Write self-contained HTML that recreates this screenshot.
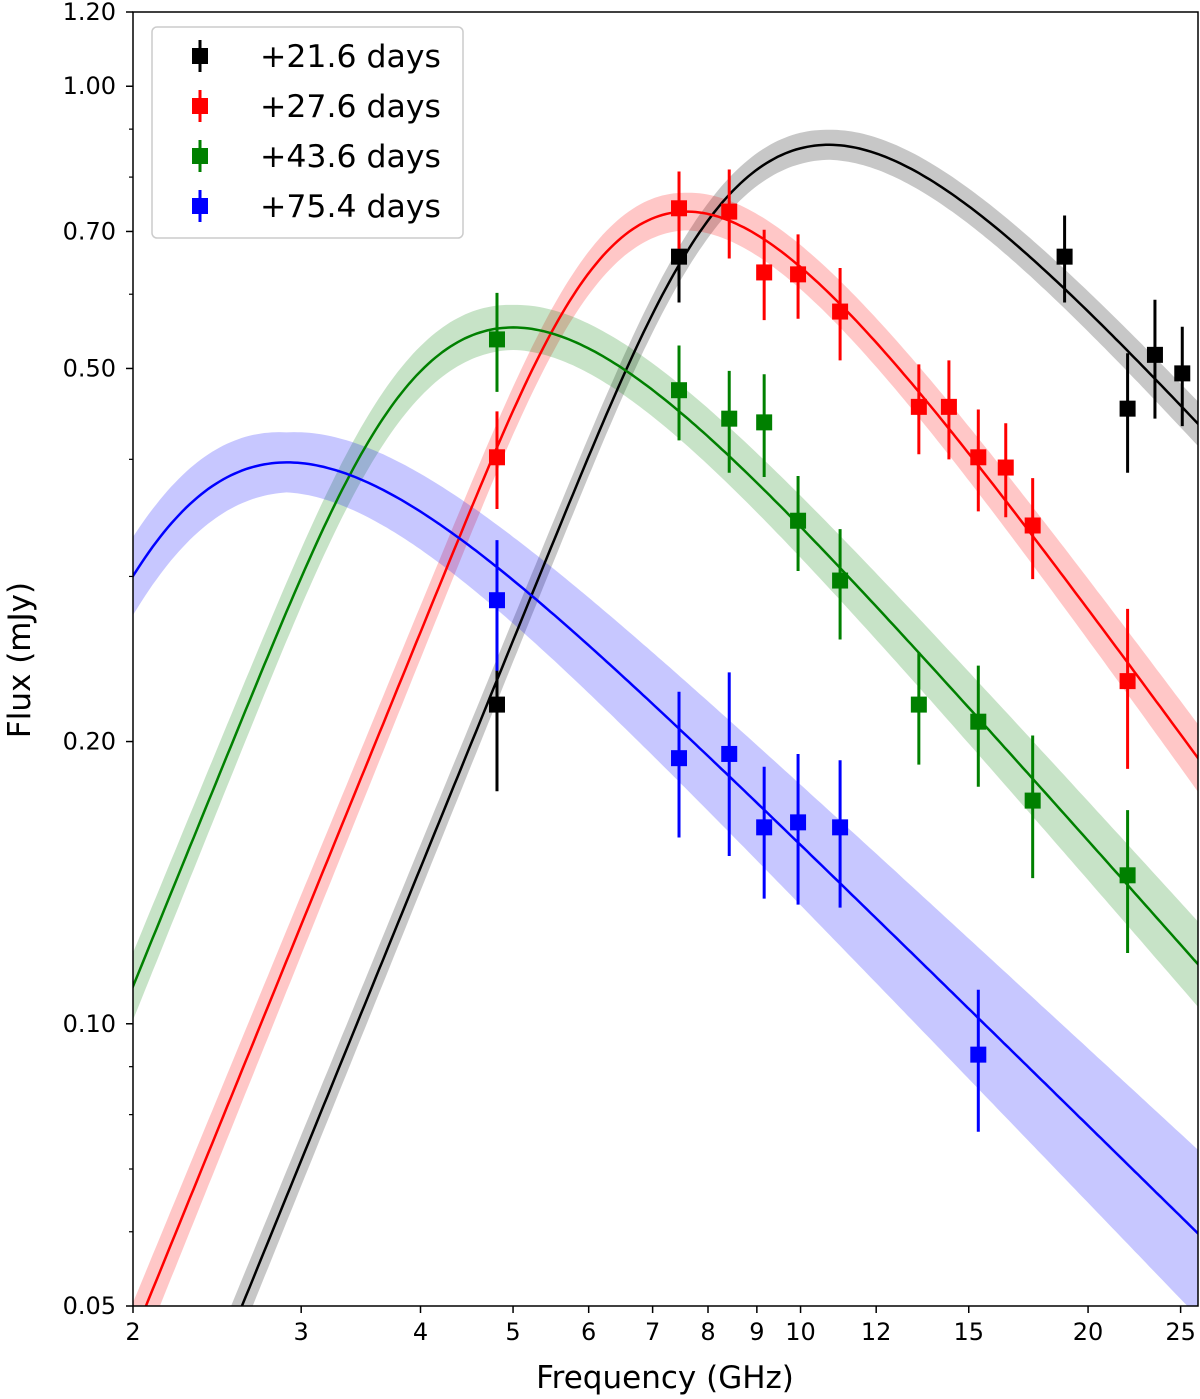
<!DOCTYPE html>
<html><head><meta charset="utf-8"><style>
html,body{margin:0;background:#fff;overflow:hidden;width:1200px;height:1399px;}
svg{display:block;font-family:"DejaVu Sans","Liberation Sans",sans-serif;overflow:hidden;}
</style></head><body>
<svg id="chart" width="1200" height="1399" viewBox="0 0 1200 1399" xmlns="http://www.w3.org/2000/svg">
<defs><clipPath id="plotclip"><rect x="133" y="12" width="1065" height="1294"/></clipPath></defs>
<g id="bands" clip-path="url(#plotclip)"></g>
<g id="curves" clip-path="url(#plotclip)"></g>
<g id="points"></g>
<rect x="133" y="12" width="1065" height="1294" fill="none" stroke="#000" stroke-width="1.5"/>
<g id="axes"></g>
<text x="665" y="1388" text-anchor="middle" font-size="31">Frequency (GHz)</text>
<text transform="translate(30,660) rotate(-90)" text-anchor="middle" font-size="31">Flux (mJy)</text>
<g id="legend"></g>
</svg>
<script>
const xTicks=[2,3,4,5,6,7,8,9,10,12,15,20,25];
const yTicks=[0.05,0.10,0.20,0.50,0.70,1.00,1.20];
const yTickLabels=["0.05","0.10","0.20","0.50","0.70","1.00","1.20"];
const yMinor=[0.06,0.07,0.08,0.09,0.3,0.4,0.6,0.8,0.9];
const seriesNames=["+21.6 days","+27.6 days","+43.6 days","+75.4 days"];
const seriesColors=["#000000","#ff0000","#008000","#0000ff"];
const fitPeakFreq=[10.7,7.6,5.0,2.9];
const fitPeakFlux=[0.866,0.735,0.553,0.397];
const fitThinP=[3.25,3.8,3.3,3.0];
const bandWidth=[0.016,0.02,0.024,0.032];
const bandGrow=[0.02,0.03,0.03,0.06];
const freq0=[4.81,7.46,18.9,22.0,23.5,25.1];
const flux0=[0.219,0.658,0.658,0.453,0.517,0.494];
const err0=[0.042,0.07,0.07,0.066,0.075,0.06];
const freq1=[4.81,7.46,8.42,9.16,9.94,11.0,13.3,14.3,15.35,16.4,17.5,22.0];
const flux1=[0.402,0.741,0.735,0.633,0.630,0.575,0.455,0.455,0.402,0.392,0.340,0.232];
const err1=[0.048,0.07,0.08,0.07,0.065,0.065,0.05,0.055,0.05,0.045,0.042,0.045];
const freq2=[4.81,7.46,8.42,9.16,9.94,11.0,13.3,15.35,17.5,22.0];
const flux2=[0.537,0.474,0.442,0.438,0.344,0.297,0.219,0.210,0.173,0.144];
const err2=[0.065,0.055,0.055,0.055,0.04,0.04,0.03,0.031,0.03,0.025];
const freq3=[4.81,7.46,8.42,9.16,9.94,11.0,15.35];
const flux3=[0.283,0.192,0.194,0.162,0.164,0.162,0.0927];
const err3=[0.045,0.034,0.043,0.026,0.03,0.029,0.016];
const allFreq=[freq0,freq1,freq2,freq3],allFlux=[flux0,flux1,flux2,flux3],allErr=[err0,err1,err2,err3];

const X0=133,X1=1198,Y0=1306,Y1=12,XMIN=2,XMAX=26.07,YMIN=0.05,YMAX=1.2;
const xs=v=>X0+(Math.log10(v)-Math.log10(XMIN))/(Math.log10(XMAX)-Math.log10(XMIN))*(X1-X0);
const ys=v=>Y0-(Math.log10(v)-Math.log10(YMIN))/(Math.log10(YMAX)-Math.log10(YMIN))*(Y0-Y1);
const NS="http://www.w3.org/2000/svg";
function mk(tag,attrs,parent){const e=document.createElementNS(NS,tag);for(const k in attrs)e.setAttribute(k,attrs[k]);parent.appendChild(e);return e;}
const axes=document.getElementById('axes');
xTicks.forEach(t=>{
  const l=mk('line',{x1:xs(t),x2:xs(t),y1:Y0,y2:Y0+7,stroke:'#000','stroke-width':1.5},axes);
  
  
  const tx=mk('text',{x:xs(t),y:Y0+34,'text-anchor':'middle','font-size':24},axes);tx.textContent=t;
  
  
});
yTicks.forEach((t,i)=>{
  const l=mk('line',{x1:X0-7,x2:X0,y1:ys(t),y2:ys(t),stroke:'#000','stroke-width':1.5},axes);
  
  
  const tx=mk('text',{x:X0-17,y:ys(t)+8,'text-anchor':'end','font-size':24},axes);tx.textContent=yTickLabels[i];
  
  
});
yMinor.forEach(t=>{
  const l=mk('line',{x1:X0-4,x2:X0,y1:ys(t),y2:ys(t),stroke:'#000','stroke-width':1.2},axes);
  
  
});
function g(x,p){return Math.pow(x,2.5)*(1-Math.exp(-Math.pow(x,-(p+4)/2)));}
const bands=document.getElementById('bands'),curves=document.getElementById('curves'),pts=document.getElementById('points');
for(let s=0;s<4;s++){
  const p=fitThinP[s];let xb=1,gb=0;
  for(let x=0.2;x<3;x+=0.0005){const v=g(x,p);if(v>gb){gb=v;xb=x;}}
  const up=[],lo=[],mid=[];
  for(let i=0;i<=300;i++){
    const nu=Math.pow(10,Math.log10(1.9)+i/300*(Math.log10(28)-Math.log10(1.9)));
    const f=fitPeakFlux[s]*g(nu/fitPeakFreq[s]*xb,p)/gb;
    const d=bandWidth[s]+bandGrow[s]*Math.abs(Math.log10(nu/fitPeakFreq[s]));
    mid.push(xs(nu).toFixed(1)+','+ys(f).toFixed(1));
    up.push(xs(nu).toFixed(1)+','+ys(f*Math.pow(10,d)).toFixed(1));
    lo.unshift(xs(nu).toFixed(1)+','+ys(f/Math.pow(10,d)).toFixed(1));
  }
  const b=mk('polygon',{points:up.concat(lo).join(' '),fill:seriesColors[s],'fill-opacity':0.22},bands);
  
  
  const c=mk('polyline',{points:mid.join(' '),fill:'none',stroke:seriesColors[s],'stroke-width':2.5},curves);
  
  
  allFreq[s].forEach((nu,i)=>{
    const f=allFlux[s][i],e=allErr[s][i];
    const eb=mk('line',{x1:xs(nu),x2:xs(nu),y1:ys(f+e),y2:ys(f-e),stroke:seriesColors[s],'stroke-width':3},pts);
    
    
    const m=mk('rect',{x:xs(nu)-8,y:ys(f)-8,width:16,height:16,fill:seriesColors[s]},pts);
    
    
  });
}
const lg=document.getElementById('legend');
const box=mk('rect',{x:152,y:27,width:311,height:211,rx:5,fill:'#fff','fill-opacity':0.85,stroke:'#ccc','stroke-width':1.5},lg);


seriesNames.forEach((n,i)=>{
  const y=56+i*50;
  const eb=mk('line',{x1:200,x2:200,y1:y-16,y2:y+16,stroke:seriesColors[i],'stroke-width':3},lg);
  
  
  const m=mk('rect',{x:192,y:y-8,width:16,height:16,fill:seriesColors[i]},lg);
  
  
  const t=mk('text',{x:260,y:y+11,'font-size':31.5},lg);t.textContent=n;
  
  
});
</script>
</body></html>
